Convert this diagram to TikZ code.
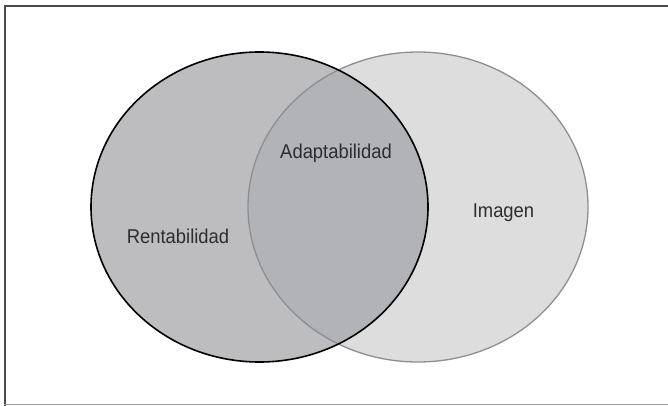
\documentclass[tikz,border=0pt]{standalone}
\usepackage{fontspec}
\setmainfont{Liberation Sans}[FakeStretch=0.92]
\definecolor{rentgris}{RGB}{189,189,191}
\definecolor{adaptgris}{RGB}{178,179,183}
\definecolor{imagris}{RGB}{221,221,221}
\definecolor{bordegris}{RGB}{140,142,146}
\definecolor{textgris}{RGB}{45,45,48}
\tikzset{
  etiqueta/.style={anchor=base,text=textgris,inner sep=0pt,font=\fontsize{20}{24}\selectfont}
}
\begin{document}
\begin{tikzpicture}[x=1pt,y=-1pt]
		\useasboundingbox (0,0) rectangle (668,406);
		% Marco
		\draw[line width=2pt,black!70] (668,6.5) -- (5,6.5) -- (5,406);
		\draw[line width=1pt,black!40] (4,404.5) -- (668,404.5);
		% Elipses
		\fill[rentgris] (259.5,207) ellipse (168.5 and 155);
		\fill[imagris] (418,207) ellipse (170 and 155);
		\begin{scope}
			\clip (259.5,207) ellipse (168.5 and 155);
			\fill[adaptgris] (418,207) ellipse (170 and 155);
		\end{scope}
		\draw[line width=1.3pt,bordegris] (418,207) ellipse (170 and 155);
		\draw[line width=1.6pt] (259.5,207) ellipse (168.5 and 155);
		% Textos
		\node[etiqueta] (rent) at (178,243) {Rentabilidad};
		\node[etiqueta] (adapt) at (336,158) {Adaptabilidad};
		\node[etiqueta] (imagen) at (503.5,217.5) {Imagen};
	\end{tikzpicture}
\end{document}
